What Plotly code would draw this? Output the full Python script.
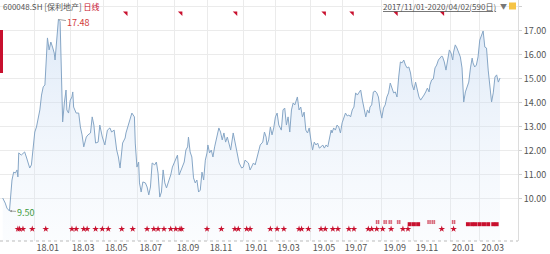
import plotly.graph_objects as go

# ---- data (trading-day index since 2017/11/01, close price) ----
day = [0, 3, 5, 8, 11, 13, 15, 17, 18, 19, 22, 24, 26, 28, 30, 32, 34, 36, 38, 40,
       42, 44, 46, 48, 50, 51, 53, 55, 57, 59, 61, 62, 64, 66, 68, 69, 71, 73, 75, 76,
       78, 80, 82, 83, 84, 87, 90, 92, 94, 96, 99, 101, 104, 106, 108, 110, 113, 115, 118, 121,
       124, 127, 129, 132, 135, 137, 139, 142, 145, 146, 148, 150, 153, 156, 157, 159, 161, 162, 164, 166,
       169, 171, 173, 175, 177, 180, 182, 184, 186, 188, 190, 192, 194, 197, 199, 201, 204, 207, 209, 211,
       213, 215, 217, 219, 220, 222, 224, 226, 228, 230, 232, 234, 236, 238, 240, 242, 243, 245, 247, 249,
       251, 253, 256, 258, 260, 262, 264, 266, 268, 270, 273, 276, 278, 280, 283, 285, 287, 289, 291, 293,
       295, 297, 299, 301, 303, 305, 308, 310, 312, 313, 315, 317, 319, 321, 323, 325, 327, 330, 332, 334,
       336, 338, 340, 342, 344, 346, 349, 351, 353, 355, 357, 359, 361, 363, 365, 367, 369, 371, 373, 375,
       377, 379, 381, 383, 385, 387, 389, 390, 392, 394, 396, 398, 400, 402, 404, 406, 408, 410, 412, 414,
       416, 418, 420, 422, 424, 426, 428, 430, 432, 434, 435, 437, 439, 441, 443, 445, 447, 449, 451, 453,
       455, 457, 459, 461, 463, 465, 467, 469, 471, 473, 475, 477, 479, 481, 483, 485, 487, 489, 491, 493,
       495, 497, 499, 501, 503, 505, 506, 508, 510, 512, 514, 516, 520, 521, 523, 525, 527, 529, 531, 533,
       534, 536, 538, 540, 542, 544, 545, 546, 548, 550, 552, 554, 556, 557, 559, 561, 563, 565, 567, 569,
       571, 573, 575, 577, 579, 581, 583, 585, 587, 589]
close = [10.04, 9.83, 9.62, 9.50, 10.79, 11.12, 11.08, 11.21, 10.92, 11.92, 11.83, 11.92, 11.96, 11.75, 11.50, 11.29, 11.42, 12.17, 12.79, 13.00,
         13.42, 13.71, 14.33, 14.67, 14.75, 15.67, 16.71, 16.21, 16.54, 16.33, 16.08, 15.79, 16.62, 17.48, 17.39, 15.79, 13.21, 14.00, 14.54, 13.71,
         13.58, 14.12, 14.25, 14.46, 13.83, 13.58, 13.58, 13.00, 12.67, 12.17, 12.58, 12.67, 12.75, 13.42, 13.08, 12.33, 12.37, 13.08, 12.58, 12.25,
         12.87, 12.96, 12.79, 12.87, 12.04, 11.75, 11.29, 12.33, 12.54, 12.75, 13.00, 13.17, 13.58, 13.42, 12.33, 11.33, 11.54, 10.67, 10.29, 10.71,
         10.67, 10.50, 10.17, 10.50, 11.50, 11.42, 11.54, 11.08, 10.08, 10.29, 11.21, 10.67, 10.46, 10.79, 11.00, 11.33, 11.62, 11.83, 11.00, 11.21,
         11.33, 11.54, 12.04, 12.17, 12.58, 11.96, 11.75, 10.88, 10.67, 10.79, 10.29, 10.37, 11.12, 10.79, 11.62, 11.92, 12.25, 11.92, 12.04, 11.75,
         12.17, 12.46, 12.96, 12.79, 12.46, 12.75, 12.37, 12.58, 12.25, 12.04, 12.75, 12.25, 11.92, 11.50, 11.29, 11.33, 11.62, 11.54, 11.50, 11.21,
         11.33, 11.50, 11.42, 11.71, 12.04, 12.25, 12.37, 12.79, 12.58, 12.25, 12.46, 13.00, 12.67, 12.96, 13.42, 13.58, 13.08, 12.87, 13.71, 13.79,
         13.08, 13.42, 12.79, 13.71, 14.00, 13.92, 14.25, 13.71, 13.83, 13.42, 13.62, 12.87, 12.75, 12.96, 12.46, 12.04, 12.37, 12.25, 12.33, 12.12,
         12.17, 12.25, 12.12, 12.25, 12.17, 12.58, 12.87, 12.75, 12.96, 12.87, 13.08, 13.00, 12.75, 13.17, 13.42, 13.58, 13.46, 13.50, 13.42, 13.71,
         13.83, 14.42, 14.33, 14.46, 14.54, 14.12, 13.79, 13.42, 13.71, 13.58, 13.83, 13.92, 14.46, 14.50, 14.42, 14.25, 13.71, 13.37, 13.79, 13.92,
         14.25, 14.42, 14.83, 14.62, 14.42, 14.46, 14.25, 15.08, 15.71, 15.67, 15.79, 15.58, 15.46, 15.50, 15.25, 14.75, 14.54, 14.87, 14.54, 14.25,
         14.12, 14.21, 14.33, 14.46, 14.62, 14.46, 14.75, 14.96, 15.00, 15.46, 15.58, 15.79, 15.96, 15.92, 15.71, 15.37, 15.79, 16.21, 16.08, 15.79,
         16.12, 16.42, 16.29, 16.08, 15.92, 15.46, 14.67, 14.04, 14.46, 14.67, 14.87, 15.46, 15.87, 15.67, 15.50, 15.58, 15.92, 16.62, 16.83, 17.00,
         16.33, 16.29, 15.37, 14.67, 14.04, 14.42, 15.08, 15.17, 14.87, 15.04]

# month-start trading days and their labels
month_days = [38, 80, 119, 160, 204, 243, 285, 323, 365, 403, 449, 487, 530, 565]
month_labels = ["18.01", "18.03", "18.05", "18.07", "18.09", "18.11", "19.01",
                "19.03", "19.05", "19.07", "19.09", "19.11", "20.01", "20.03"]

y_ticks = [10, 11, 12, 13, 14, 15, 16, 17, 18]
y_labels = ["10.00", "11.00", "12.00", "13.00", "14.00", "15.00", "16.00", "17.00", ""]

# event markers
top_flag_days = [146, 211, 276, 381, 414, 466, 521]
star_days = [18, 20, 24, 35, 51, 82, 87, 96, 100, 110, 118, 125, 141, 154, 171, 179, 184, 191, 199, 205,
             210, 212, 242, 259, 275, 279, 289, 293, 317, 325, 333, 351, 354, 362, 377, 382, 391, 397, 410, 416,
             433, 437, 443, 450, 460, 474, 480, 520, 534]
note_days = [444, 453, 459, 469, 505, 510, 534]
block_days = [482, 487, 492, 551, 556, 560, 565, 570, 575, 581, 585]

hi_day, hi_val = 66, 17.48
lo_day, lo_val = 8, 9.50

RED = "#c8102e"
FONT = "Noto Sans CJK SC, Open Sans, sans-serif"

fig = go.Figure()
fig.add_trace(go.Scatter(
    x=day, y=close, mode="lines",
    line=dict(color="#86a6c6", width=1),
    fill="tozeroy",
    fillgradient=dict(type="vertical",
                      colorscale=[[0, "rgba(220,233,248,0.12)"], [1, "rgba(190,212,240,0.5)"]],
                      start=8.25, stop=17.5),
    hoverinfo="skip", showlegend=False))

fig.add_trace(go.Scatter(x=top_flag_days, y=[17.75] * len(top_flag_days), mode="markers",
                         marker=dict(symbol="triangle-ne", size=5, color=RED),
                         showlegend=False, hoverinfo="skip"))
fig.add_trace(go.Scatter(x=star_days, y=[8.75] * len(star_days), mode="markers",
                         marker=dict(symbol="star", size=5, color=RED),
                         showlegend=False, hoverinfo="skip"))
fig.add_trace(go.Scatter(x=note_days, y=[9.04] * len(note_days), mode="markers",
                         marker=dict(symbol="hash-open", size=4, color="#d0455a",
                                     line=dict(width=0.8, color="#d0455a")),
                         showlegend=False, hoverinfo="skip"))
fig.add_trace(go.Scatter(x=block_days, y=[8.95] * len(block_days), mode="markers",
                         marker=dict(symbol="square", size=4, color=RED),
                         showlegend=False, hoverinfo="skip"))

fig.update_layout(
    width=550, height=254,
    margin=dict(l=0, r=32, t=0, b=13),
    paper_bgcolor="white", plot_bgcolor="white",
    font=dict(family=FONT, size=9, color="#555555"),
    xaxis=dict(range=[-3.2, 610.3], tickvals=month_days, ticktext=month_labels,
               showgrid=True, gridcolor="#ebebeb", gridwidth=1,
               ticks="", ticklabelshift=13, ticklabelstandoff=0,
               tickfont=dict(size=9, color="#555555"),
               showline=False, zeroline=False, fixedrange=True),
    yaxis=dict(range=[8.25, 18.29], side="right", tickvals=y_ticks, ticktext=y_labels,
               showgrid=True, gridcolor="#ebebeb", gridwidth=1,
               ticks="outside", ticklen=3, tickcolor="#d0d0d0",
               tickfont=dict(size=9, color="#555555"),
               showline=True, linecolor="#dcdcdc", linewidth=1,
               zeroline=False, fixedrange=True),
    shapes=[
        dict(type="line", xref="paper", yref="paper", x0=0, x1=1, y0=0, y1=0,
             line=dict(color="#bbbbbb", width=1, dash="dot")),
        dict(type="rect", xref="paper", yref="paper", x0=0, x1=3 / 518, y0=0.697, y1=0.8755,
             fillcolor=RED, line=dict(width=0)),
        dict(type="rect", xref="paper", yref="paper", x0=509 / 518, x1=516 / 518,
             y0=(241 - 9.5) / 241, y1=(241 - 2.5) / 241,
             fillcolor="#f6c445", line=dict(width=0)),
    ],
    annotations=[
        dict(text="600048.SH [保利地产] <span style='color:#c8102e'>日线</span>",
             xref="paper", yref="paper", x=0.002, y=(241 - 6) / 241,
             xanchor="left", yanchor="middle", showarrow=False,
             font=dict(size=8, color="#555555", family=FONT)),
        dict(text="<u>2017/11/01-2020/04/02(590日)</u>",
             xref="paper", yref="paper", x=498 / 518, y=(241 - 6) / 241,
             xanchor="right", yanchor="middle", showarrow=False,
             font=dict(size=8, color="#555555", family=FONT)),
        dict(text="▼", xref="paper", yref="paper", x=503 / 518, y=(241 - 6) / 241,
             xanchor="center", yanchor="middle", showarrow=False,
             font=dict(size=7, color="#777777", family=FONT)),
        dict(x=hi_day, y=hi_val, text=f"{hi_val:.2f}", showarrow=True,
             arrowhead=0, arrowwidth=0.8, arrowcolor="#888888",
             ax=20, ay=3,
             font=dict(size=9, color="#d23a3a", family=FONT)),
        dict(x=lo_day, y=lo_val, text=f"{lo_val:.2f}", showarrow=True,
             arrowhead=2, arrowsize=0.6, arrowwidth=0.8, arrowcolor="#888888",
             ax=17, ay=1,
             font=dict(size=9, color="#3b9a3b", family=FONT)),
    ],
)

fig.write_html("out.html")
